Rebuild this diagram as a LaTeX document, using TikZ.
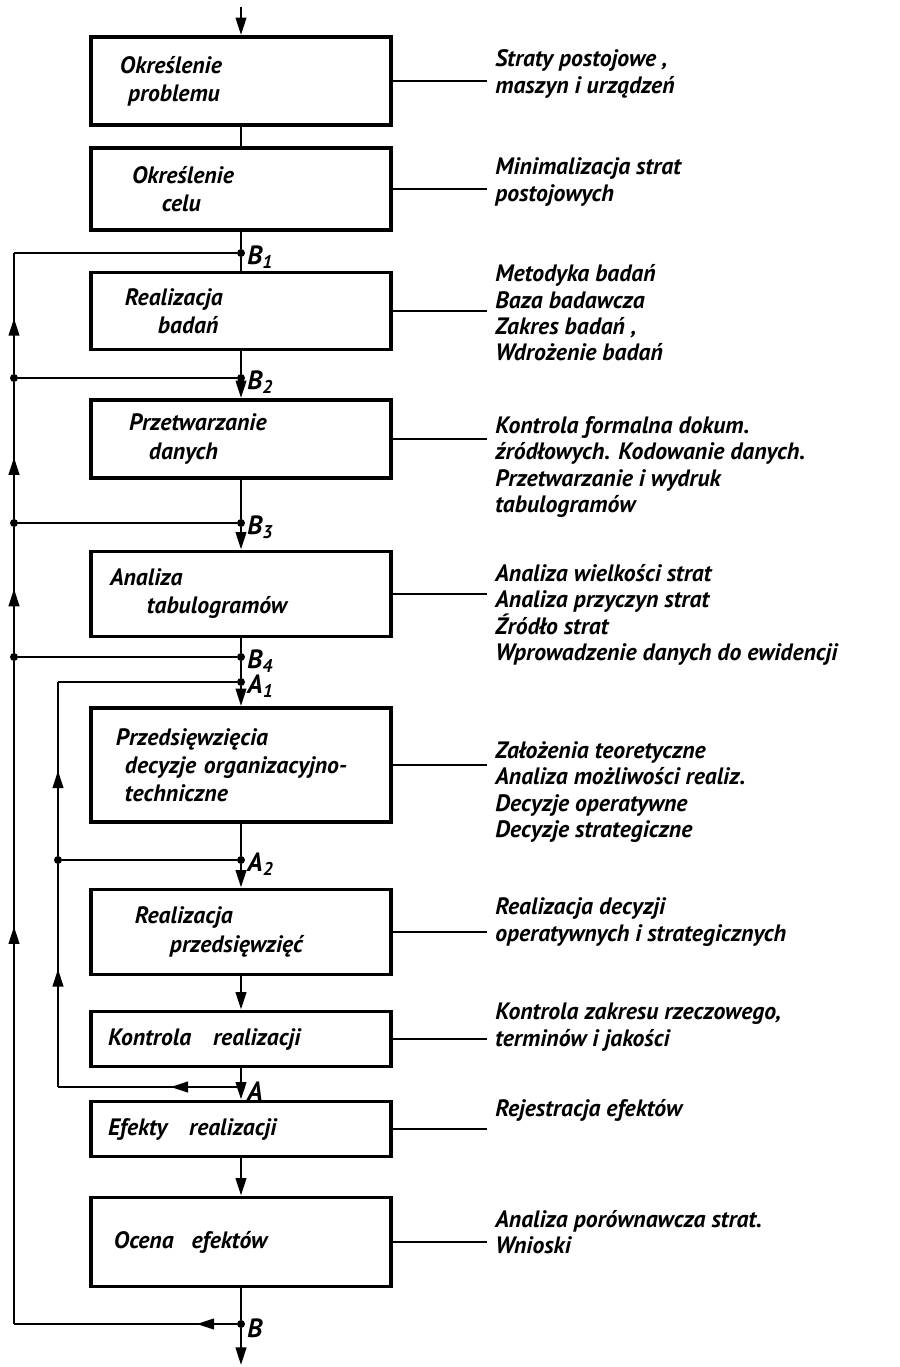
\documentclass[tikz,border=0pt]{standalone}
\usepackage{fontspec}
\setmainfont{PT Sans}
\usetikzlibrary{arrows.meta, decorations.markings}
\newlength{\pxu}
\setlength{\pxu}{0.02cm}
\tikzset{
  stage/.style={
    rectangle, draw=black, line width=2.2pt, text width=300\pxu,
    inner xsep=0pt, inner ysep=2pt, align=left,
    font=\fontsize{13.5}{16}\selectfont\itshape\bfseries,
  },
  note/.style={
    anchor=west, align=left, inner xsep=8\pxu, inner ysep=0pt,
    font=\fontsize{13.5}{15}\selectfont\itshape\bfseries,
  },
  link/.style={line width=1.4pt, draw=black},
  arrow/.style={link, -{Triangle[length=10pt, width=6pt]}},
  side/.style={line width=0.9pt, draw=black},
  junction/.style={circle, fill=black, inner sep=0pt, minimum size=8\pxu},
  jlabel/.style={
    font=\fontsize{15}{15}\selectfont\itshape\bfseries,
    inner sep=1pt, yshift=-4\pxu,
  },
  midarrow/.style={
    link, postaction={decorate},
    decoration={markings,
      mark=at position #1 with {\arrow{Triangle[length=10pt, width=6pt]}}},
  },
}

\begin{document}
\begin{tikzpicture}[x=0.02cm, y=-0.02cm]
  \useasboundingbox (0,0) rectangle (900,1367);

  % stages
  \node[stage, minimum height=88\pxu] (s1) at (241,81)
    {\hspace*{29\pxu}Określenie\\\hspace*{37\pxu}problemu};
  \node[stage, minimum height=82\pxu] (s2) at (241,189)
    {\hspace*{41\pxu}Określenie\\\hspace*{71\pxu}celu};
  \node[stage, minimum height=77\pxu] (s3) at (241,311)
    {\hspace*{34\pxu}Realizacja\\\hspace*{67\pxu}badań};
  \node[stage, minimum height=78\pxu] (s4) at (241,439)
    {\hspace*{38\pxu}Przetwarzanie\\\hspace*{58\pxu}danych};
  \node[stage, minimum height=85\pxu] (s5) at (241,594)
    {\hspace*{19\pxu}Analiza\\\hspace*{56\pxu}tabulogramów};
  \node[stage, minimum height=114\pxu] (s6) at (241,765)
    {\hspace*{25\pxu}Przedsięwzięcia\\\hspace*{34\pxu}decyzje organizacyjno-\\\hspace*{34\pxu}techniczne};
  \node[stage, minimum height=85\pxu] (s7) at (241,932)
    {\hspace*{44\pxu}Realizacja\\\hspace*{79\pxu}przedsięwzięć};
  \node[stage, minimum height=55\pxu] (s8) at (241,1039)
    {\hspace*{17\pxu}Kontrola\hspace{14\pxu} realizacji};
  \node[stage, minimum height=55\pxu] (s9) at (241,1129)
    {\hspace*{17\pxu}Efekty\hspace{14\pxu} realizacji};
  \node[stage, minimum height=89\pxu] (s10) at (241,1242)
    {\hspace*{23\pxu}Ocena\hspace{10\pxu} efektów};

  % notes on the right
  \node[note] (n1) at (487,74) {Straty postojowe ,\\maszyn i urządzeń};
  \node[note] (n2) at (487,182) {Minimalizacja strat\\postojowych};
  \node[note] (n3) at (487,313)
    {Metodyka badań\\Baza badawcza\\Zakres badań ,\\Wdrożenie badań};
  \node[note] (n4) at (487,467)
    {Kontrola formalna dokum.\\źródłowych. Kodowanie danych.\\Przetwarzanie i wydruk\\tabulogramów};
  \node[note] (n5) at (487,615)
    {Analiza wielkości strat\\Analiza przyczyn strat\\Źródło strat\\Wprowadzenie danych do ewidencji};
  \node[note] (n6) at (487,792)
    {Założenia teoretyczne\\Analiza możliwości realiz.\\Decyzje operatywne\\Decyzje strategiczne};
  \node[note] (n7) at (487,922) {Realizacja decyzji\\operatywnych i strategicznych};
  \node[note] (n8) at (487,1027) {Kontrola zakresu rzeczowego,\\terminów i jakości};
  \node[note] (n9) at (487,1110) {Rejestracja efektów};
  \node[note] (n10) at (487,1232) {Analiza porównawcza strat.\\Wnioski};

  \foreach \i in {1,...,10}
    \draw[side] (s\i.east) -- (s\i.east -| n\i.west);

  % junctions on the main line
  \node[junction, label={[jlabel]right:B\textsubscript{1}}] (b1) at (241,253) {};
  \node[junction, label={[jlabel]right:B\textsubscript{2}}] (b2) at (241,378) {};
  \node[junction, label={[jlabel]right:B\textsubscript{3}}] (b3) at (241,523) {};
  \node[junction, label={[jlabel]right:B\textsubscript{4}}] (b4) at (241,657) {};
  \node[junction, label={[jlabel]right:A\textsubscript{1}}] (a1) at (241,682) {};
  \node[junction, label={[jlabel]right:A\textsubscript{2}}] (a2) at (241,860) {};
  \node[junction, label={[jlabel]right:A}] (a) at (241,1087) {};
  \node[junction, label={[jlabel]right:B}] (b) at (241,1324) {};
  \coordinate (in) at (241,7);
  \coordinate (out) at (241,1365);

  % main line
  \draw[arrow] (in) -- (s1);
  \draw[link] (s1) -- (s2);
  \draw[link] (s2) -- (b1);
  \draw[link] (b1) -- (s3);
  \draw[link] (s3) -- (b2);
  \draw[arrow] (b2) -- (s4);
  \draw[link] (s4) -- (b3);
  \draw[arrow] (b3) -- (s5);
  \draw[link] (s5) -- (b4);
  \draw[link] (b4) -- (a1);
  \draw[arrow] (a1) -- (s6);
  \draw[link] (s6) -- (a2);
  \draw[arrow] (a2) -- (s7);
  \draw[arrow] (s7) -- (s8);
  \draw[link] (s8) -- (a);
  \draw[arrow] (a) -- (s9);
  \draw[arrow] (s9) -- (s10);
  \draw[link] (s10) -- (b);
  \draw[arrow] (b) -- (out);

  % outer loop B
  \coordinate (o1) at (14,253);
  \node[junction] (o2) at (14,378) {};
  \node[junction] (o3) at (14,523) {};
  \node[junction] (o4) at (14,657) {};
  \coordinate (o5) at (14,1324);
  \draw[midarrow=0.18] (b) -- (o5);
  \draw[midarrow=0.6] (o5) -- (o4);
  \draw[midarrow=0.51] (o4) -- (o3);
  \draw[midarrow=0.45] (o3) -- (o2);
  \draw[midarrow=0.46] (o2) -- (o1);
  \draw[link] (o1) -- (b1);
  \draw[link] (o2) -- (b2);
  \draw[link] (o3) -- (b3);
  \draw[link] (o4) -- (b4);

  % inner loop A
  \coordinate (i1) at (58,682);
  \node[junction] (i2) at (58,860) {};
  \coordinate (i3) at (58,1087);
  \draw[midarrow=0.37] (a) -- (i3);
  \draw[midarrow=0.53] (i3) -- (i2);
  \draw[midarrow=0.49] (i2) -- (i1);
  \draw[link] (i1) -- (a1);
  \draw[link] (i2) -- (a2);

\end{tikzpicture}
\end{document}
